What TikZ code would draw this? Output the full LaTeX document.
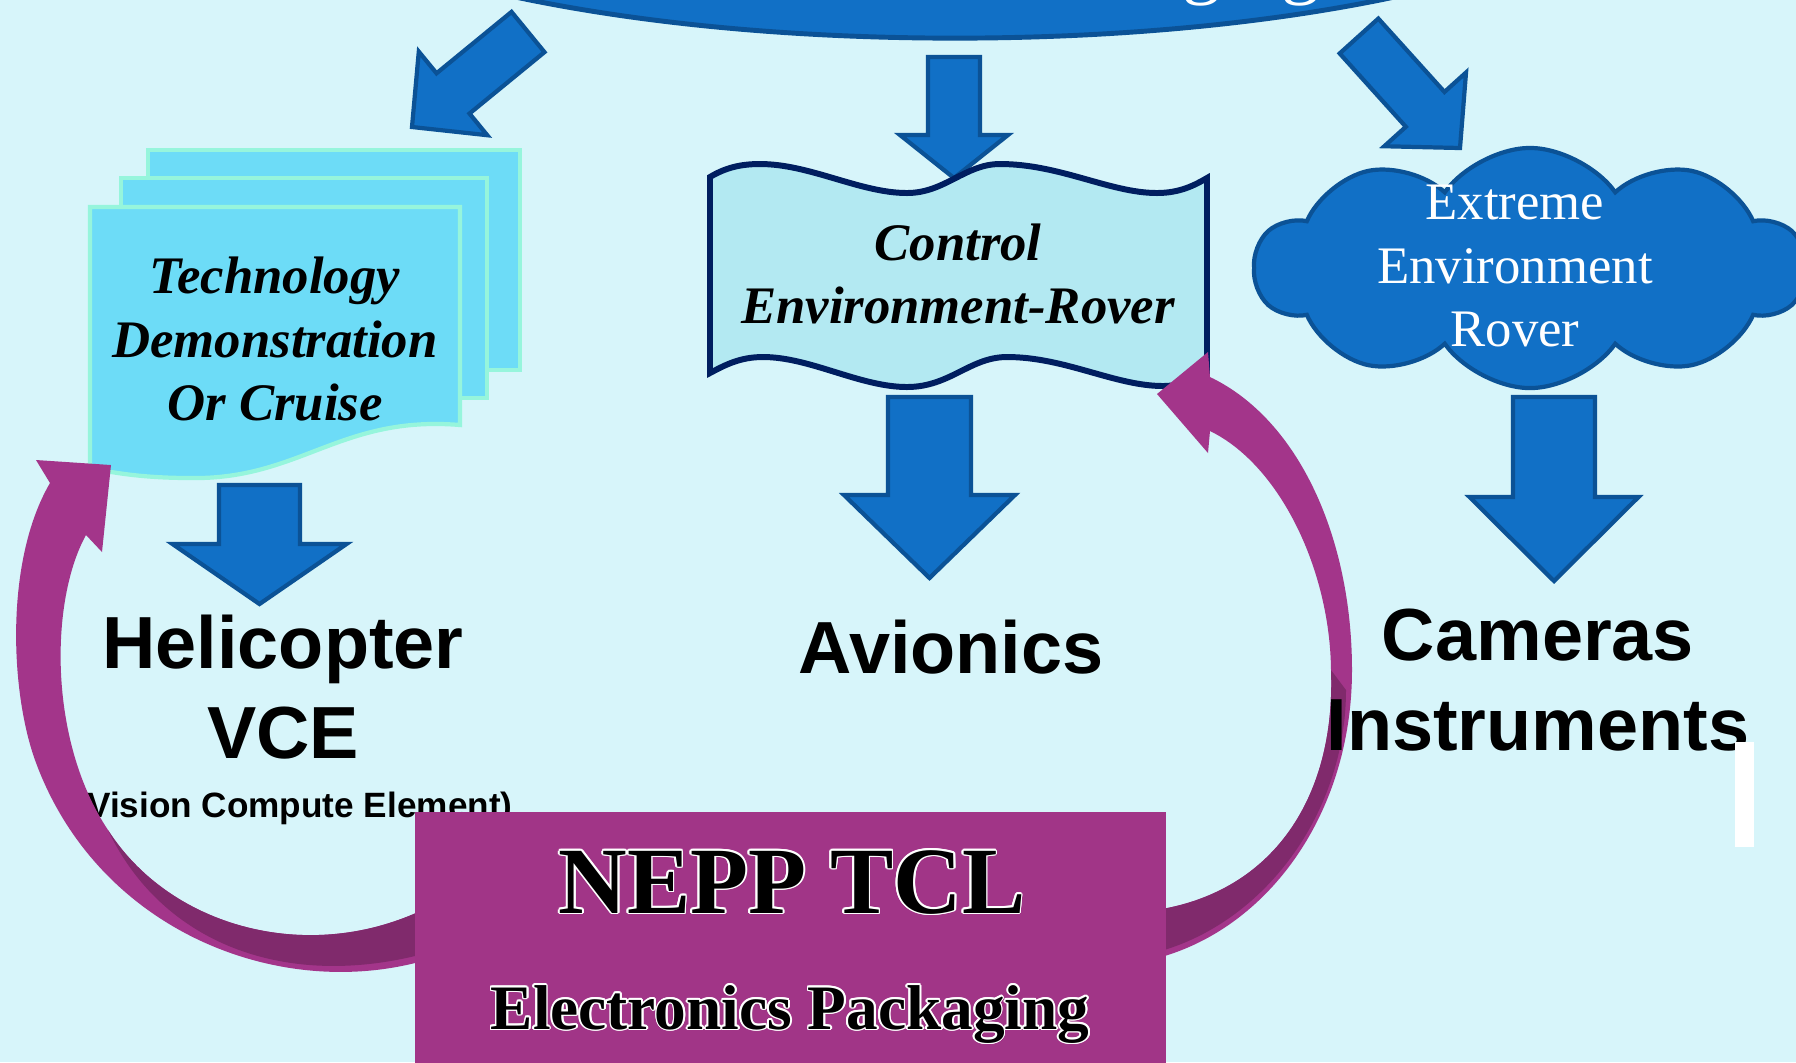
\documentclass[tikz,border=0pt]{standalone}
\usepackage{fontspec}
\setmainfont{Liberation Serif}
\setsansfont{Liberation Sans}
\usetikzlibrary{calc}
\usetikzlibrary{shapes.geometric,shapes.symbols}

\definecolor{skybg}{RGB}{215,245,250}
\definecolor{arrowblue}{RGB}{17,112,198}
\definecolor{arrowedge}{RGB}{11,82,150}
\definecolor{docfill}{RGB}{109,220,247}
\definecolor{docedge}{RGB}{150,245,220}
\definecolor{bannerfill}{RGB}{179,233,242}
\definecolor{banneredge}{RGB}{0,30,96}
\definecolor{nepp}{RGB}{161,53,135}
\definecolor{looplight}{RGB}{163,53,138}
\definecolor{loopdark}{RGB}{128,42,108}

% block arrow: tail, tip, shaft half width, head half width, head length
\newcommand\fatarrow[5]{%
  \coordinate (fahead) at ($(#2)!#5!(#1)$);
  \draw[bluearrow] ($(#1)!#3!90:(#2)$) -- ($(fahead)!#3!90:(#2)$)
    -- ($(fahead)!#4!90:(#2)$) -- (#2) -- ($(fahead)!#4!-90:(#2)$)
    -- ($(fahead)!#3!-90:(#2)$) -- ($(#1)!#3!-90:(#2)$) -- cycle;}

% black letters with a thin white rim
\newcommand\whiteedge[1]{%
  \makebox[0pt][l]{\color{white}%
    \foreach \ang in {0,30,...,330}{%
      \makebox[0pt][l]{\hspace*{\fpeval{0.5*cosd(\ang)}pt}\raisebox{\fpeval{0.5*sind(\ang)}pt}{#1}}}}%
  #1}

\begin{document}
\begin{tikzpicture}[x=0.01cm,y=-0.01cm,
    bluearrow/.style={fill=arrowblue, draw=arrowedge, line width=1.2pt},
    docpage/.style={fill=docfill, draw=docedge, line width=1.2pt},
    slanted/.style={font=\fontsize{15}{18}\selectfont\bfseries\itshape, align=center},
    cloudtext/.style={font=\fontsize{15}{18}\selectfont, align=center, text=white},
    bigsans/.style={font=\sffamily\bfseries\fontsize{21}{25.6}\selectfont, align=center},
    smallsans/.style={font=\sffamily\bfseries\fontsize{10}{12}\selectfont}]
  \useasboundingbox (0,0) rectangle (1796,1062);
  \clip (0,0) rectangle (1796,1062);
  \fill[skybg] (0,0) rectangle (1796,1062);

  % top oval
  \node[ellipse, fill=arrowblue, draw=arrowedge, line width=1.4pt,
        minimum width=14.4cm, minimum height=3.96cm] (pkgtop) at (955,-160) {};
  \node[anchor=base, text=white, font=\fontsize{22}{26}\selectfont] (pkgtitle) at (975,-11) {Electronics Packaging};

  % arrows out of the oval
  \coordinate (ltail) at (528,32);
  \coordinate (ltip) at (412,127);
  \coordinate (mtail) at (954,57);
  \coordinate (mtip) at (954,178);
  \coordinate (rtail) at (1359,36);
  \coordinate (rtip) at (1460,148);
  \fatarrow{ltail}{ltip}{0.26cm}{0.54cm}{0.53cm}
  \fatarrow{mtail}{mtip}{0.26cm}{0.54cm}{0.43cm}
  \fatarrow{rtail}{rtip}{0.26cm}{0.55cm}{0.52cm}

  % stacked pages
  \draw[docpage] (148,150) rectangle (520,370);
  \draw[docpage] (121,178) rectangle (487,398);
  \draw[docpage] (90,207) -- (460,207) -- (460,425)
    .. controls (340,415) and (300,480) .. (190,478)
    .. controls (140,478) and (110,472) .. (90,468) -- cycle;
  \node[slanted] (techdemo) at (275,339) {Technology\\Demonstration\\Or Cruise};

  % wavy banner
  \draw[fill=bannerfill, draw=banneredge, line width=1.7pt]
    (710,177) .. controls (725,168) and (740,164) .. (760,164)
    .. controls (810,164) and (860,193) .. (907,193)
    .. controls (945,193) and (965,164) .. (1000,164)
    .. controls (1060,164) and (1110,193) .. (1157,193)
    .. controls (1180,193) and (1195,185) .. (1207,178) -- (1207,372)
    .. controls (1195,380) and (1180,386) .. (1163,386)
    .. controls (1115,386) and (1065,357) .. (1007,357)
    .. controls (970,357) and (950,387) .. (907,387)
    .. controls (860,387) and (810,357) .. (763,357)
    .. controls (740,357) and (725,365) .. (710,373) -- cycle;
  \node[slanted] (ctrlenv) at (958,274) {Control\\Environment-Rover};

  % cloud
  \node[cloud, cloud puffs=10, cloud puff arc=110, aspect=2.3, fill=arrowblue,
        draw=arrowedge, line width=1.2pt, minimum width=5.5cm, minimum height=2.4cm] (extremecloud) at (1530,268) {};
  \node[cloudtext] (extreme) at (1515,266) {Extreme\\Environment\\Rover};

  % arrows down to the results
  \coordinate (hstart) at (259.5,485);
  \coordinate (htip) at (259.5,604);
  \coordinate (astart) at (929.5,397);
  \coordinate (atip) at (929.5,578);
  \coordinate (cstart) at (1554,397);
  \coordinate (ctip) at (1554,581);
  \fatarrow{hstart}{htip}{0.405cm}{0.87cm}{0.6cm}
  \fatarrow{astart}{atip}{0.415cm}{0.855cm}{0.83cm}
  \fatarrow{cstart}{ctip}{0.41cm}{0.845cm}{0.84cm}

  \node[bigsans] (heli) at (283,687) {Helicopter\\VCE};
  \node[smallsans, anchor=base] (vce) at (294,817) {(Vision Compute Element)};
  \node[bigsans, anchor=base] (avionics) at (951,673) {Avionics};

  % loop back to the pages
  \fill[looplight] (450,952) .. controls (300,1010) and (100,940) .. (35,760)
    .. controls (10,690) and (5,560) .. (50,483) -- (36,460) -- (111,465) -- (102,552)
    -- (86,535) .. controls (50,600) and (48,740) .. (108,830)
    .. controls (175,935) and (330,970) .. (450,895) -- cycle;
  \fill[loopdark] (108,830) .. controls (175,935) and (330,970) .. (450,895)
    -- (450,946) .. controls (300,996) and (165,950) .. (108,830) -- cycle;

  % loop back to the banner
  \fill[looplight] (1140,962) .. controls (1260,940) and (1352,820) .. (1352,670)
    .. controls (1352,540) and (1300,420) .. (1210,377) -- (1208,352) -- (1157,394)
    -- (1208,453) -- (1210,431) .. controls (1280,465) and (1330,570) .. (1331,670)
    .. controls (1336,800) and (1270,900) .. (1140,912) -- cycle;
  \fill[loopdark] (1331,670) .. controls (1336,800) and (1270,900) .. (1140,912)
    -- (1140,956) .. controls (1257,934) and (1346,818) .. (1346,690) -- cycle;

  \node[bigsans] (cameras) at (1538,680) {Cameras\\Instruments};
  \node[fill=white, minimum width=0.19cm, minimum height=1.05cm, inner sep=0pt] (cursor) at (1744.5,794.5) {};

  % NEPP TCL block
  \node[fill=nepp, minimum width=7.51cm, minimum height=3cm, inner sep=0pt, anchor=north west] (neppbox) at (414,811) {};
  \node[anchor=base, font=\fontsize{27}{32}\selectfont\bfseries] (nepptitle) at (792,913) {\whiteedge{NEPP TCL}};
  \node[anchor=base, font=\fontsize{18}{22}\selectfont\bfseries] (neppsub) at (790,1029) {\whiteedge{Electronics Packaging}};
\end{tikzpicture}
\end{document}
